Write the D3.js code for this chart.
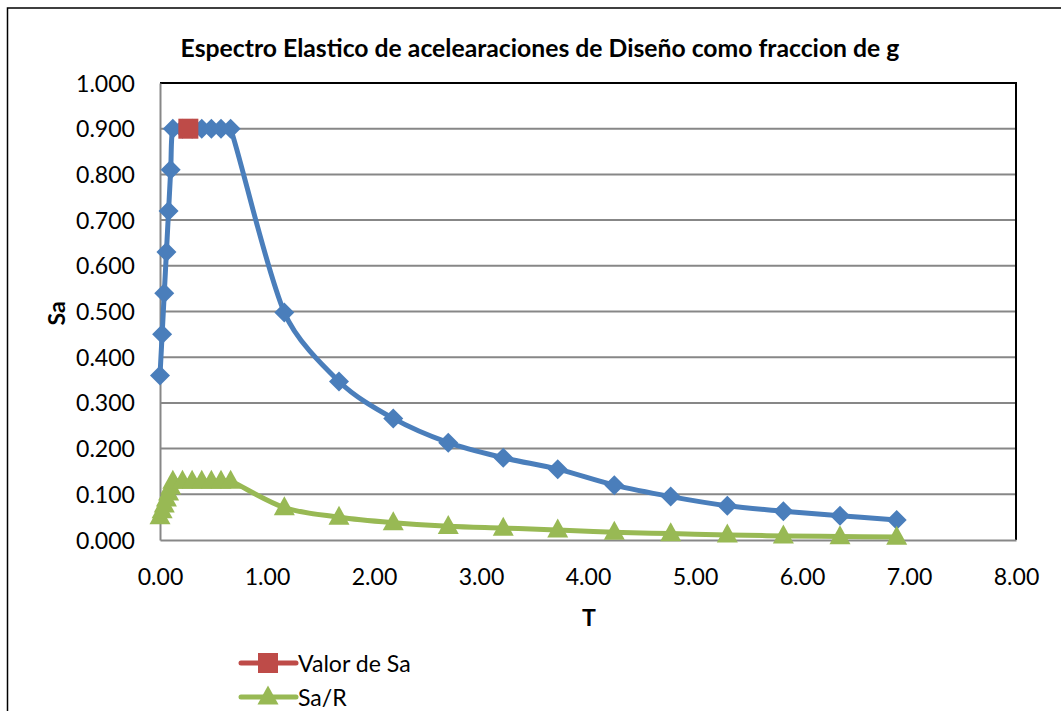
<!DOCTYPE html>
<html>
<head>
<meta charset="utf-8">
<script src="https://cdn.jsdelivr.net/npm/d3@7"></script>
<style>
  html, body { margin: 0; padding: 0; background: #fff; }
  svg { display: block; }
  text { font-family: Lato, "Open Sans", sans-serif; fill: #000; }
</style>
</head>
<body>
<svg id="chart" width="1061" height="711"></svg>
<script>
// ---- data ----
const chartTitle = "Espectro Elastico de acelearaciones de Diseño como fraccion de g";
const xTitle = "T";
const yTitle = "Sa";

const periodT = [0.00, 0.02, 0.04, 0.06, 0.08, 0.10, 0.12,
                 0.21, 0.30, 0.39, 0.48, 0.57, 0.66,
                 1.162, 1.673, 2.180, 2.694, 3.208, 3.717, 4.246, 4.773, 5.302, 5.826, 6.355, 6.885];
const saValues = [0.360, 0.450, 0.540, 0.630, 0.720, 0.810, 0.900,
                  0.900, 0.900, 0.900, 0.900, 0.900, 0.900,
                  0.498, 0.347, 0.266, 0.213, 0.180, 0.155, 0.120, 0.095, 0.075, 0.063, 0.053, 0.044];
const saRValues = [0.051, 0.064, 0.077, 0.090, 0.103, 0.116, 0.129,
                   0.129, 0.129, 0.129, 0.129, 0.129, 0.129,
                   0.071, 0.050, 0.038, 0.030, 0.026, 0.022, 0.017, 0.014, 0.011, 0.009, 0.0075, 0.0063];
const valorT = [0.265];
const valorSa = [0.900];

const yTicks = [0, 0.1, 0.2, 0.3, 0.4, 0.5, 0.6, 0.7, 0.8, 0.9, 1.0];
const xTicks = [0, 1, 2, 3, 4, 5, 6, 7, 8];
const legendNames = ["Valor de Sa", "Sa/R"];

// ---- layout ----
const svg = d3.select("#chart");
const plot = { left: 160, right: 1016, top: 83, bottom: 540 };
const x = d3.scaleLinear().domain([0, 8]).range([plot.left, plot.right]);
const y = d3.scaleLinear().domain([0, 1]).range([plot.bottom, plot.top]);

const blue = "#4A7EBB", red = "#BE4B48", green = "#98B954";
const gridColor = "#878787";

// outer chart border
svg.append("rect").attr("x", 7.5).attr("y", 8).attr("width", 1100).attr("height", 800)
  .attr("fill", "none").attr("stroke", "#000").attr("stroke-width", 1.5);

// title
const titleSel = svg.append("text").attr("x", 540).attr("y", 47).attr("text-anchor", "middle")
  .attr("dominant-baseline", "central").attr("font-weight", "bold").attr("font-size", 20).text(chartTitle);
function fit(sel, target) {
  const w = sel.node().getComputedTextLength();
  const fs = parseFloat(sel.attr("font-size"));
  return fs * target / w;
}
titleSel.attr("font-size", fit(titleSel, 719));

// gridlines
svg.append("g").selectAll("line").data(yTicks.filter(d => d > 0 && d < 1)).join("line")
  .attr("x1", plot.left).attr("x2", plot.right)
  .attr("y1", d => y(d)).attr("y2", d => y(d))
  .attr("stroke", gridColor).attr("stroke-width", 2);

// plot border (top/right black)
svg.append("path")
  .attr("d", `M${plot.left},${plot.top}H${plot.right}V${plot.bottom}`)
  .attr("fill", "none").attr("stroke", "#000").attr("stroke-width", 2);

// axes
const yAxis = svg.append("g").attr("transform", `translate(${plot.left},0)`)
  .call(d3.axisLeft(y).tickValues(yTicks).tickFormat(d3.format(".3f")).tickSize(0).tickPadding(25));
const xAxis = svg.append("g").attr("transform", `translate(0,${plot.bottom})`)
  .call(d3.axisBottom(x).tickValues(xTicks).tickFormat(d3.format(".2f")).tickSize(0));
[yAxis, xAxis].forEach(a => {
  a.select(".domain").attr("stroke", gridColor).attr("stroke-width", 2);
  a.selectAll("text").attr("font-family", "Lato, sans-serif");
});
const firstY = yAxis.selectAll(".tick text").filter(d => d === 1).attr("font-size", 20);
const tickFs = fit(firstY, 59);
yAxis.selectAll(".tick text").attr("font-size", tickFs).attr("dy", "0.35em");
xAxis.selectAll(".tick text").attr("font-size", tickFs).attr("y", 37).attr("dy", "0.35em");

// axis titles
svg.append("text").attr("transform", `translate(56,${(plot.top + plot.bottom) / 2 + 2}) rotate(-90)`)
  .attr("text-anchor", "middle").attr("dominant-baseline", "central")
  .attr("font-weight", "bold").attr("font-size", tickFs).text(yTitle);
svg.append("text").attr("x", x(4) + 1).attr("y", 617).attr("text-anchor", "middle")
  .attr("dominant-baseline", "central").attr("font-weight", "bold").attr("font-size", tickFs).text(xTitle);

// smoothed line (Excel-like: Catmull-Rom tangents, control offsets limited by segment length)
function smoothPath(data) {
  const p = data.map(d => [x(d.t), y(d.v)]);
  const path = d3.path();
  path.moveTo(p[0][0], p[0][1]);
  const n = p.length;
  for (let i = 0; i < n - 1; i++) {
    const p0 = p[Math.max(0, i - 1)], p1 = p[i], p2 = p[i + 1], p3 = p[Math.min(n - 1, i + 2)];
    const seg = Math.hypot(p2[0] - p1[0], p2[1] - p1[1]);
    const lim = seg / 3;
    let a = [(p2[0] - p0[0]) / 6, (p2[1] - p0[1]) / 6];
    let b = [(p3[0] - p1[0]) / 6, (p3[1] - p1[1]) / 6];
    const la = Math.hypot(a[0], a[1]), lb = Math.hypot(b[0], b[1]);
    if (la > lim) a = [a[0] * lim / la, a[1] * lim / la];
    if (lb > lim) b = [b[0] * lim / lb, b[1] * lim / lb];
    path.bezierCurveTo(p1[0] + a[0], p1[1] + a[1], p2[0] - b[0], p2[1] - b[1], p2[0], p2[1]);
  }
  return path.toString();
}

const saData = periodT.map((t, i) => ({ t, v: saValues[i] }));
const saRData = periodT.map((t, i) => ({ t, v: saRValues[i] }));
const valorData = valorT.map((t, i) => ({ t, v: valorSa[i] }));

function diamondPath(r) { return `M0,${-r}L${r},0L0,${r}L${-r},0Z`; }
function trianglePath(w, h) { return `M0,${-h * 0.6}L${w / 2},${h * 0.4}L${-w / 2},${h * 0.4}Z`; }

// Sa (blue)
svg.append("path").attr("d", smoothPath(saData)).attr("fill", "none")
  .attr("stroke", blue).attr("stroke-width", 5).attr("stroke-linejoin", "round");
svg.append("g").selectAll("path").data(saData).join("path")
  .attr("transform", d => `translate(${x(d.t)},${y(d.v)})`)
  .attr("d", diamondPath(10)).attr("fill", blue);

// Valor de Sa (red)
svg.append("g").selectAll("rect").data(valorData).join("rect")
  .attr("x", d => x(d.t) - 10).attr("y", d => y(d.v) - 10)
  .attr("width", 20).attr("height", 20).attr("fill", red);

// Sa/R (green)
svg.append("path").attr("d", smoothPath(saRData)).attr("fill", "none")
  .attr("stroke", green).attr("stroke-width", 5).attr("stroke-linejoin", "round");
svg.append("g").selectAll("path").data(saRData).join("path")
  .attr("transform", d => `translate(${x(d.t)},${y(d.v)})`)
  .attr("d", trianglePath(21, 19)).attr("fill", green);

// legend
const legendY = [663, 697];
const legendColors = [red, green];
legendNames.forEach((name, i) => {
  const g = svg.append("g").attr("transform", `translate(0,${legendY[i]})`);
  g.append("line").attr("x1", 241).attr("x2", 296).attr("y1", 0).attr("y2", 0)
    .attr("stroke", legendColors[i]).attr("stroke-width", 5).attr("stroke-linecap", "round");
  if (i === 0) {
    g.append("rect").attr("x", 258).attr("y", -10).attr("width", 20).attr("height", 20).attr("fill", red);
  } else {
    g.append("path").attr("transform", "translate(268,0)").attr("d", trianglePath(21, 19)).attr("fill", green);
  }
  g.append("text").attr("x", 298).attr("y", 0).attr("dominant-baseline", "central")
    .attr("font-size", tickFs).text(name);
});
</script>
</body>
</html>
